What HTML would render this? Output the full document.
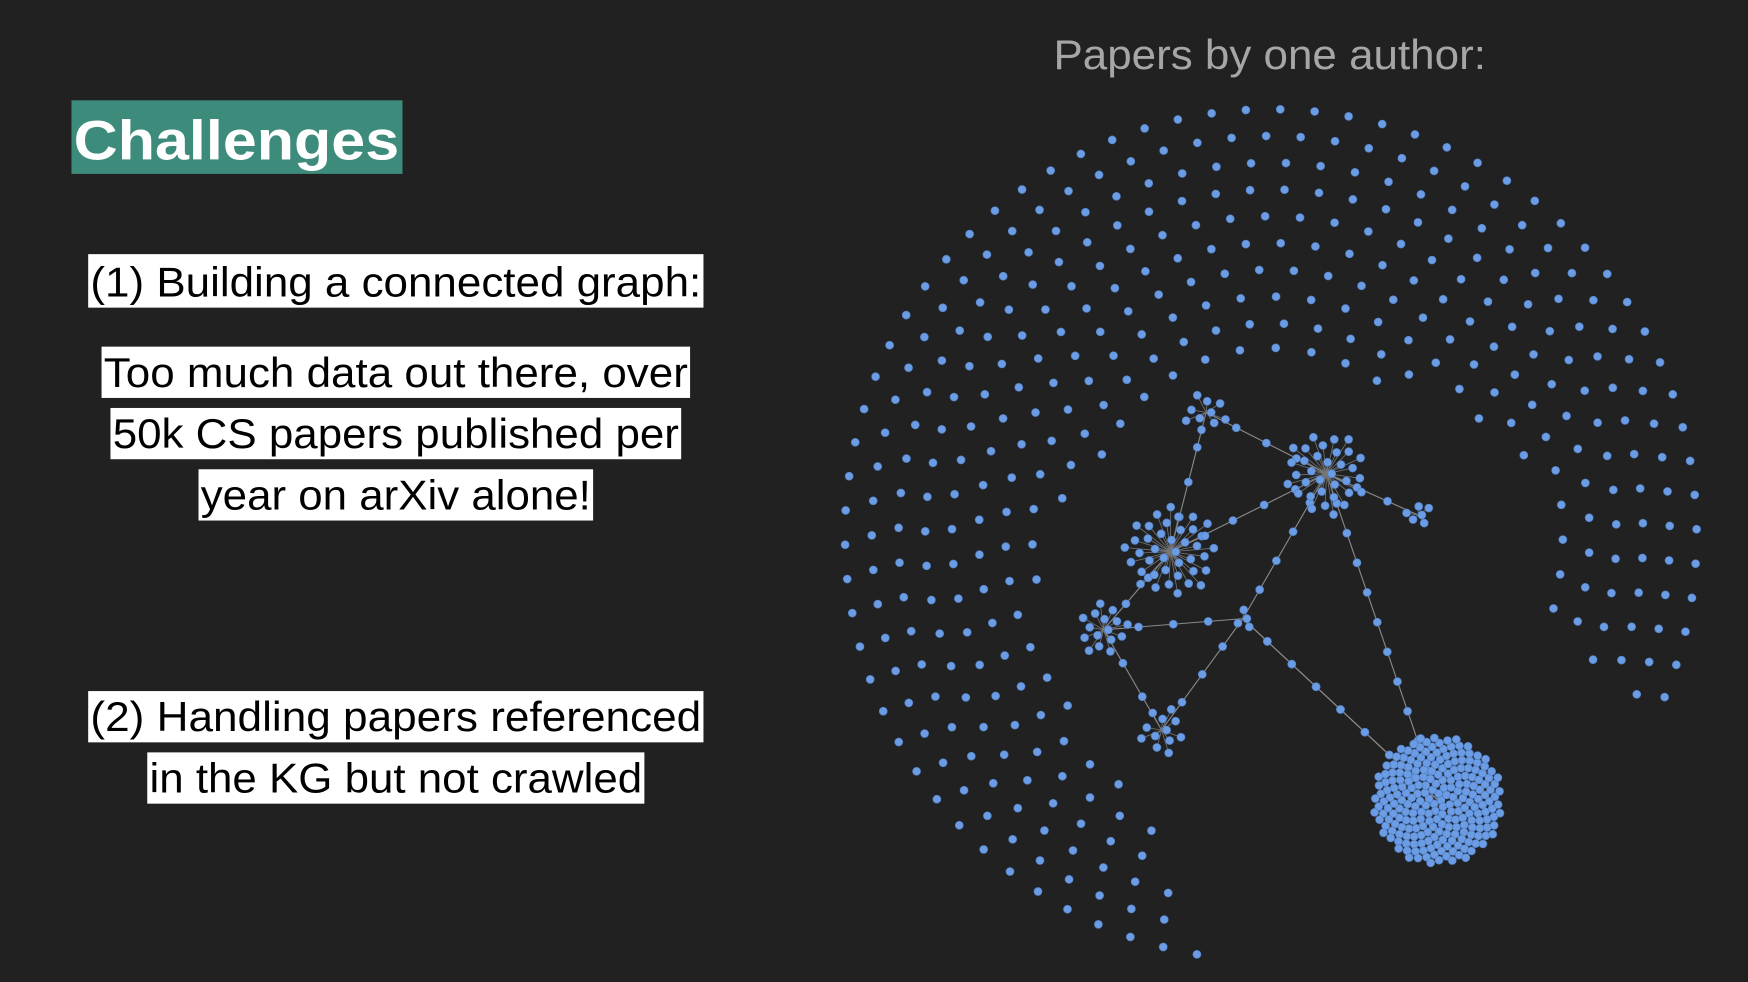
<!DOCTYPE html>
<html><head><meta charset="utf-8">
<style>
html,body{margin:0;padding:0;background:#212121;}
svg{display:block;}
text{font-family:"Liberation Sans",Arial,sans-serif;}
</style></head>
<body>
<svg id="slide" width="1748" height="982" viewBox="0 0 1568 881" xmlns="http://www.w3.org/2000/svg">
<rect x="0" y="0" width="1568" height="881" fill="#212121"/>
<rect x="64" y="90" width="297" height="66" fill="#3d8b7b"/>
<text x="66" y="143" font-size="50" font-weight="bold" fill="#ffffff" textLength="292" lengthAdjust="spacingAndGlyphs">Challenges</text>
<text x="1139" y="62" font-size="37" fill="#a6a6a6" text-anchor="middle" textLength="388" lengthAdjust="spacingAndGlyphs">Papers by one author:</text>

<g>
<rect x="79" y="228" width="552" height="48" fill="#ffffff"/>
<text x="355" y="266" font-size="37" fill="#000" text-anchor="middle" textLength="548" lengthAdjust="spacingAndGlyphs">(1) Building a connected graph:</text>
<rect x="91" y="311" width="528" height="46" fill="#fff"/>
<text x="355" y="347" font-size="37" fill="#000" text-anchor="middle" textLength="524" lengthAdjust="spacingAndGlyphs">Too much data out there, over</text>
<rect x="99" y="366" width="512" height="46" fill="#fff"/>
<text x="355" y="402" font-size="37" fill="#000" text-anchor="middle" textLength="508" lengthAdjust="spacingAndGlyphs">50k CS papers published per</text>
<rect x="178" y="421" width="354" height="46" fill="#fff"/>
<text x="355" y="457" font-size="37" fill="#000" text-anchor="middle" textLength="350" lengthAdjust="spacingAndGlyphs">year on arXiv alone!</text>
</g>
<g>
<rect x="79" y="620" width="552" height="46" fill="#fff"/>
<text x="355" y="656" font-size="37" fill="#000" text-anchor="middle" textLength="548" lengthAdjust="spacingAndGlyphs">(2) Handling papers referenced</text>
<rect x="132" y="675" width="446" height="46" fill="#fff"/>
<text x="355" y="711" font-size="37" fill="#000" text-anchor="middle" textLength="442" lengthAdjust="spacingAndGlyphs">in the KG but not crawled</text>
</g>
<g id="edges"></g>
<g id="nodes"></g>
</svg>
<script>
// Layout center of the author graph
const cx = 1140, cy = 480;
// Rings of isolated papers: radius, start angle, end angle (deg)
const ringRadii = [382, 358, 334, 310, 286, 262, 238, 214, 190, 168];
const ringStart = [100, 103, 106, 109, 112, 118, 140, 165, 190, 200];
const ringEnd   = [387, 386, 385, 384, 382, 378, 350, 335, 320, 310];
// Clusters: center x, center y, radius, node count
const clusterX = [1290, 1050, 1190, 990, 1042, 1082, 1272, 1115];
const clusterY = [718, 495, 425, 565, 655, 370, 462, 555];
const clusterR = [58, 42, 38, 24, 22, 20, 12, 10];
const clusterN = [230, 40, 34, 16, 12, 10, 6, 4];
// Chain connecting clusters (pairs of cluster indices)
const linkA = [1, 2, 1, 7, 7, 4, 7, 0, 1, 5, 2, 2];
const linkB = [2, 7, 3, 4, 0, 3, 3, 7, 5, 2, 6, 0];

const NS = "http://www.w3.org/2000/svg";
const nodesG = document.getElementById('nodes');
const edgesG = document.getElementById('edges');
function dot(x, y, name) {
  const c = document.createElementNS(NS, 'circle');
  c.setAttribute('cx', x.toFixed(1));
  c.setAttribute('cy', y.toFixed(1));
  c.setAttribute('r', 3.6);
  c.setAttribute('fill', '#6c9ce3');
  c.setAttribute('stroke', '#4f7fc4');
  c.setAttribute('stroke-width', '0.6');
  
  
  nodesG.appendChild(c);
}
ringRadii.forEach((r, i) => {
  const a0 = ringStart[i], a1 = ringEnd[i];
  const len = (a1 - a0) * Math.PI / 180 * r;
  const n = Math.round(len / 31);
  const off = (i % 2) * 0.5;
  for (let k = 0; k < n; k++) {
    const a = (a0 + (a1 - a0) * (k + off) / n) * Math.PI / 180;
    dot(cx + r * Math.cos(a), cy + r * Math.sin(a), 'paper-node');
  }
});
for (let i = 0; i < linkA.length; i++) {
  const a = linkA[i], b = linkB[i];
  const l = document.createElementNS(NS, 'line');
  l.setAttribute('x1', clusterX[a]); l.setAttribute('y1', clusterY[a]);
  l.setAttribute('x2', clusterX[b]); l.setAttribute('y2', clusterY[b]);
  l.setAttribute('stroke', '#8a8a8a'); l.setAttribute('stroke-width', '1');
  
  
  edgesG.appendChild(l);
  const steps = Math.floor(Math.hypot(clusterX[b]-clusterX[a], clusterY[b]-clusterY[a]) / 28);
  for (let s = 1; s < steps; s++) {
    dot(clusterX[a] + (clusterX[b]-clusterX[a]) * s / steps, clusterY[a] + (clusterY[b]-clusterY[a]) * s / steps, 'chain-node');
  }
}
clusterX.forEach((x, i) => {
  const R = clusterR[i], n = clusterN[i];
  const golden = Math.PI * (3 - Math.sqrt(5));
  for (let k = 0; k < n; k++) {
    const rr = R * Math.sqrt((k + 0.5) / n);
    const a = k * golden;
    const px = x + rr * Math.cos(a), py = clusterY[i] + rr * Math.sin(a);
    if (i > 0) {
      const l = document.createElementNS(NS, 'line');
      l.setAttribute('x1', x); l.setAttribute('y1', clusterY[i]);
      l.setAttribute('x2', px.toFixed(1)); l.setAttribute('y2', py.toFixed(1));
      l.setAttribute('stroke', '#777'); l.setAttribute('stroke-width', '0.7');
      
      
      edgesG.appendChild(l);
    }
    dot(px, py, 'cluster-node');
  }
});
</script>
</body></html>
